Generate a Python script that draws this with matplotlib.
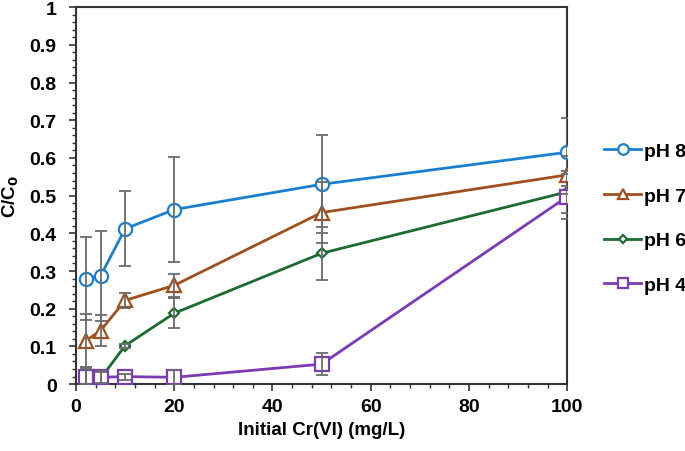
import matplotlib
matplotlib.use("Agg")
import matplotlib.pyplot as plt
from matplotlib.ticker import MultipleLocator

plt.rcParams["font.family"] = ["Liberation Sans", "DejaVu Sans"]

# data
conc = [2, 5, 10, 20, 50, 100]
series = ["pH 8", "pH 7", "pH 6", "pH 4"]
ph8 = [0.280, 0.287, 0.412, 0.463, 0.530, 0.615]
ph7 = [0.115, 0.142, 0.222, 0.262, 0.455, 0.555]
ph6 = [0.020, 0.015, 0.102, 0.188, 0.347, 0.510]
ph4 = [0.020, 0.018, 0.020, 0.018, 0.053, 0.497]
err8 = [0.11, 0.12, 0.10, 0.14, 0.13, 0.09]
err7 = [0.07, 0.04, 0.02, 0.03, 0.08, 0.05]
err6 = [0.02, 0.02, 0.005, 0.04, 0.07, 0.055]
err4 = [0.025, 0.015, 0.008, 0.02, 0.03, 0.06]

colors = ["#1b7fd0", "#a0501e", "#1b6b32", "#7a3bb5"]
markers = ["o", "^", "D", "s"]
msizes = [9.5, 9.5, 5, 9.5]

fig = plt.figure(figsize=(6.85, 4.52), dpi=100)
ax = fig.add_axes([0.111, 0.148, 0.717, 0.834])

for name, y, e, c, m, ms in zip(series, [ph8, ph7, ph6, ph4],
                                [err8, err7, err6, err4], colors, markers, msizes):
    ax.plot(conc, y, color=c, lw=2, marker=m, ms=ms, mfc="white",
            mec=c, mew=1.6, label=name, zorder=3)
    ax.errorbar(conc, y, yerr=e, fmt="none", ecolor="#6b6b6b",
                elinewidth=1.3, capsize=4, capthick=1.3, zorder=4)

ax.set_xlim(0, 100)
ax.set_ylim(0, 1)
ax.xaxis.set_major_locator(MultipleLocator(20))
ax.xaxis.set_minor_locator(MultipleLocator(4))
ax.yaxis.set_major_locator(MultipleLocator(0.1))
ax.yaxis.set_minor_locator(MultipleLocator(0.02))
ax.yaxis.set_major_formatter(lambda v, p: "0" if v == 0 else ("1" if v == 1 else f"{v:.1f}"))

for s in ax.spines.values():
    s.set_color("#333333")
    s.set_linewidth(1.5)
ax.tick_params(which="major", length=5, width=1.2, color="#333333",
               labelsize=14)
ax.tick_params(axis="y", which="major", pad=9)
ax.tick_params(axis="x", which="major", pad=5)
ax.tick_params(which="minor", length=3, width=1, color="#333333")
for lab in ax.get_xticklabels() + ax.get_yticklabels():
    lab.set_fontweight("bold")

ax.set_xlabel("Initial Cr(VI) (mg/L)", fontsize=13.5, fontweight="bold", labelpad=4)
ax.set_ylabel(r"C/C$_\mathbf{0}$", fontsize=13.5, fontweight="bold", labelpad=6)

ax.legend(loc="center left", bbox_to_anchor=(1.04, 0.44), frameon=False,
          prop={"size": 14, "weight": "bold"}, handlelength=1.9,
          handletextpad=0.15, labelspacing=1.4, markerscale=0.8)

fig.savefig("out.png", dpi=100, facecolor="white")
